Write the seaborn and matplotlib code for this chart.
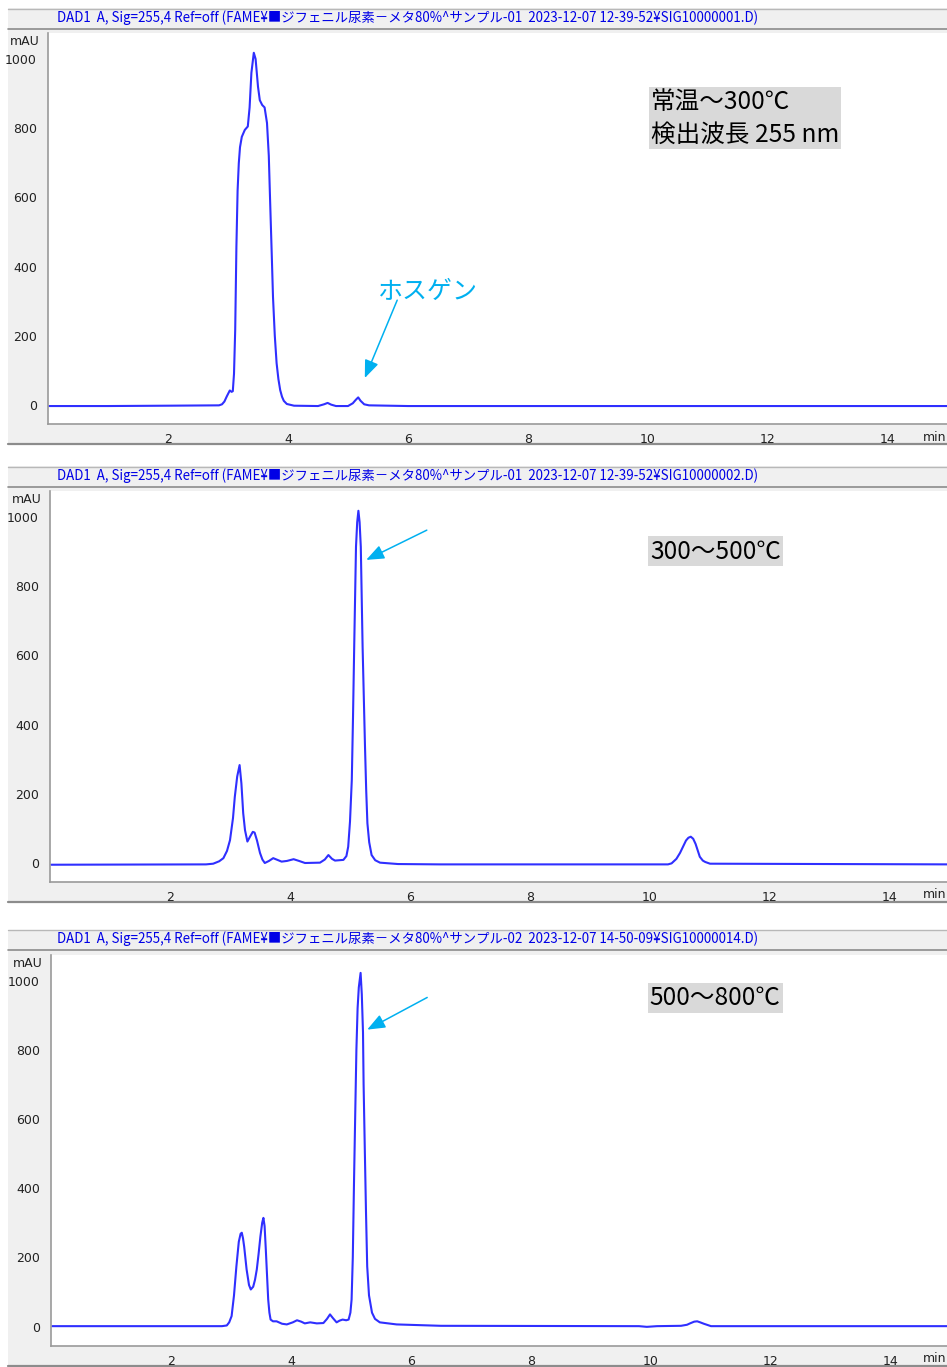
import numpy as np
import seaborn as sns
import matplotlib.pyplot as plt
from matplotlib.patches import Rectangle
from matplotlib.lines import Line2D
import matplotlib.transforms as mtransforms

sns.set_style("white")
plt.rcParams['font.family'] = ['Noto Sans CJK JP', 'DejaVu Sans']

# chromatogram traces (time in min, signal in mAU)
t1 = [0.02, 1.0, 2.0, 2.85, 2.90, 2.94, 2.98, 3.03, 3.06, 3.08, 3.10, 3.12, 3.14, 3.16,
      3.18, 3.20, 3.23, 3.28, 3.33, 3.36, 3.39, 3.43, 3.46, 3.50, 3.53, 3.57, 3.61, 3.65,
      3.68, 3.70, 3.73, 3.75, 3.78, 3.81, 3.84, 3.87, 3.90, 3.93, 3.98, 4.1, 4.5, 4.6,
      4.66, 4.72, 4.8, 5.0, 5.08, 5.13, 5.17, 5.21, 5.27, 5.35, 6.0, 15.0]
s1 = [-3, -3, -2, -1, 2, 10, 25, 42, 38, 40, 90, 217, 457, 620,
      699, 745, 775, 795, 805, 860, 960, 1018, 1000, 920, 881, 867, 860, 815,
      720, 601, 430, 312, 200, 121, 75, 43, 24, 12, 3, -2, -3, 2,
      6, 1, -3, -3, 5, 15, 22, 12, 2, -1, -3, -3]

t2 = [0.02, 2.6, 2.72, 2.82, 2.89, 2.95, 3.0, 3.05, 3.08, 3.12, 3.16, 3.19, 3.22, 3.25,
      3.29, 3.34, 3.38, 3.41, 3.45, 3.5, 3.54, 3.58, 3.65, 3.72, 3.79, 3.86, 3.95, 4.06,
      4.15, 4.25, 4.5, 4.58, 4.64, 4.70, 4.75, 4.89, 4.94, 4.97, 5.0, 5.03, 5.05, 5.07,
      5.10, 5.12, 5.14, 5.16, 5.18, 5.21, 5.23, 5.25, 5.27, 5.29, 5.32, 5.36, 5.42, 5.5,
      5.8, 6.5, 10.3, 10.36, 10.44, 10.5, 10.6, 10.64, 10.68, 10.72, 10.76, 10.83, 10.88,
      10.92, 11.0, 15.0]
s2 = [-5, -4, -2, 5, 14, 35, 66, 130, 191, 250, 283, 230, 144, 95,
      62, 78, 90, 88, 65, 29, 10, 0, 6, 14, 9, 4, 6, 11,
      6, 0, 1, 10, 23, 12, 7, 9, 20, 47, 120, 240, 420, 625,
      914, 985, 1018, 985, 914, 625, 480, 336, 210, 115, 60, 23, 8, 1,
      -3, -4, -4, -1, 12, 29, 65, 73, 76, 70, 55, 18, 7,
      3, -2, -4]

t3 = [0.02, 2.85, 2.93, 2.97, 3.01, 3.05, 3.09, 3.13, 3.16, 3.18, 3.20, 3.22, 3.26, 3.30,
      3.33, 3.37, 3.40, 3.43, 3.46, 3.49, 3.52, 3.54, 3.56, 3.58, 3.60, 3.62, 3.64, 3.66,
      3.70, 3.76, 3.85, 3.93, 4.03, 4.10, 4.17, 4.23, 4.32, 4.43, 4.54, 4.60, 4.65, 4.70,
      4.76, 4.81, 4.86, 4.92, 4.96, 4.99, 5.01, 5.03, 5.05, 5.07, 5.09, 5.11, 5.13, 5.16,
      5.18, 5.20, 5.21, 5.23, 5.25, 5.27, 5.30, 5.35, 5.40, 5.48, 5.76, 6.5, 9.8, 9.93,
      10.1, 10.5, 10.6, 10.65, 10.72, 10.77, 10.82, 10.88, 11.0, 15.0]
s3 = [1, 1, 3, 12, 30, 90, 174, 245, 268, 271, 255, 230, 165, 120,
      107, 115, 135, 165, 210, 260, 300, 314, 290, 223, 150, 78, 40, 20,
      15, 15, 8, 6, 12, 18, 14, 9, 12, 9, 10, 22, 35, 24,
      12, 17, 20, 18, 20, 40, 78, 200, 416, 610, 800, 920, 980, 1022,
      960, 850, 700, 512, 330, 174, 90, 40, 22, 12, 6, 2, 1, -1,
      1, 2, 5, 9, 14, 15, 12, 8, 1, 1]

headers = [
    "DAD1  A, Sig=255,4 Ref=off (FAME¥■ジフェニル尿素－メタ80%^サンプル-01  2023-12-07 12-39-52¥SIG10000001.D)",
    "DAD1  A, Sig=255,4 Ref=off (FAME¥■ジフェニル尿素－メタ80%^サンプル-01  2023-12-07 12-39-52¥SIG10000002.D)",
    "DAD1  A, Sig=255,4 Ref=off (FAME¥■ジフェニル尿素－メタ80%^サンプル-02  2023-12-07 14-50-09¥SIG10000014.D)",
]
labels = ["常温～300℃\n検出波長 255 nm", "300～500℃", "500～800℃"]
y_ticks = [0, 200, 400, 600, 800, 1000]
x_ticks = [2, 4, 6, 8, 10, 12, 14]

traces = [(t1, s1), (t2, s2), (t3, s3)]
offsets = [0, 458, 921.5]
x0s = [48, 50, 51]
label_pos = [(10.05, 912), (10.0, 938), (9.98, 987)]
arrows = [((5.82, 303), (5.28, 78)), ((6.28, 962), (5.27, 876)), ((6.27, 951), (5.27, 858))]

W, H = 947, 1367
fig = plt.figure(figsize=(W / 100, H / 100), dpi=100)


def fy(py):
    return 1 - py / H


trace_color = '#2f2fff'
arrow_color = '#00b0f0'
tick_font = ['Liberation Sans Narrow', 'DejaVu Sans']

for i, (t, s) in enumerate(traces):
    off = offsets[i]
    x0 = x0s[i]
    # panel background, header band and border lines
    fig.add_artist(Rectangle((8 / W, fy(off + 445)), 1, (445 - 8) / H, transform=fig.transFigure,
                             facecolor='#f0f0f0', edgecolor='none', zorder=-5))
    fig.add_artist(Line2D([8 / W, 1], [fy(off + 8.5)] * 2, transform=fig.transFigure,
                          color='#b8b8b8', lw=1, zorder=-4))
    fig.add_artist(Line2D([8 / W, 1], [fy(off + 28.5)] * 2, transform=fig.transFigure,
                          color='#8c8c8c', lw=1.2, zorder=-4))
    fig.add_artist(Line2D([8 / W, 1], [fy(off + 444)] * 2, transform=fig.transFigure,
                          color='#8c8c8c', lw=1.6, zorder=-4))
    fig.text(57 / W, fy(off + 17.5), headers[i], color='#0000e6', fontsize=9.6,
             ha='left', va='center')

    # axes: t=0 at x0 px, 60 px per min; 0 mAU at off+405, 0.346 px per mAU
    top, bottom = off + 33, off + 424
    ax = fig.add_axes([x0 / W, fy(bottom), 900 / W, (bottom - top) / H])
    ax.set_facecolor('white')
    sns.lineplot(x=t, y=s, ax=ax, color=trace_color, lw=1.5, sort=False, estimator=None)
    y0 = off + 405
    ax.set_xlim(0, 15)
    ax.set_ylim((y0 - bottom) / 0.346, (y0 - top) / 0.346)

    for side in ['top', 'right']:
        ax.spines[side].set_visible(False)
    for side in ['left', 'bottom']:
        ax.spines[side].set_color('#9a9a9a')
        ax.spines[side].set_linewidth(1.2)

    ax.set_yticks(y_ticks)
    ax.set_yticklabels([str(v) for v in y_ticks])
    ax.set_yticks(np.arange(-50, 1051, 50), minor=True)
    ax.set_xticks(x_ticks)
    ax.set_xticklabels([str(v) for v in x_ticks])
    ax.set_xticks(np.arange(0.5, 15, 0.5), minor=True)
    ax.tick_params(axis='both', which='major', direction='out', length=6, width=1,
                   color='#8c8c8c', labelcolor='#222222', pad=2)
    ax.tick_params(axis='both', which='minor', direction='out', length=3, width=1,
                   color='#8c8c8c')
    ax.tick_params(axis='x', which='major', length=5, pad=1.5)
    for lab in ax.get_xticklabels() + ax.get_yticklabels():
        lab.set_family(tick_font)
        lab.set_fontsize(9)
    ax.set_xlabel('')
    ax.set_ylabel('')

    trans_y = mtransforms.blended_transform_factory(ax.transAxes, ax.transData)
    ax.text(-0.009, 1050, 'mAU', transform=trans_y, ha='right', va='center',
            fontsize=9, color='#222222', family=tick_font)
    fig.text(946 / W, fy(off + 437), 'min', ha='right', va='center',
             fontsize=9, color='#222222', family=tick_font)

    # temperature label box
    lx, ly = label_pos[i]
    ax.text(lx, ly, labels[i], ha='left', va='top', fontsize=17.7, color='black',
            linespacing=1.3,
            bbox=dict(boxstyle='square,pad=0.08', facecolor='#d9d9d9', edgecolor='none'))

    # arrow to the peak
    (tx, ty), (hx, hy) = arrows[i]
    ax.annotate('', xy=(hx, hy), xytext=(tx, ty),
                arrowprops=dict(arrowstyle='-|>,head_length=0.9,head_width=0.36',
                                mutation_scale=12, color=arrow_color, lw=1.1,
                                shrinkA=0, shrinkB=0))
    if i == 0:
        ax.text(6.33, 328, 'ホスゲン', ha='center', va='center', fontsize=18,
                color=arrow_color)

fig.savefig('out.png', dpi=100)
